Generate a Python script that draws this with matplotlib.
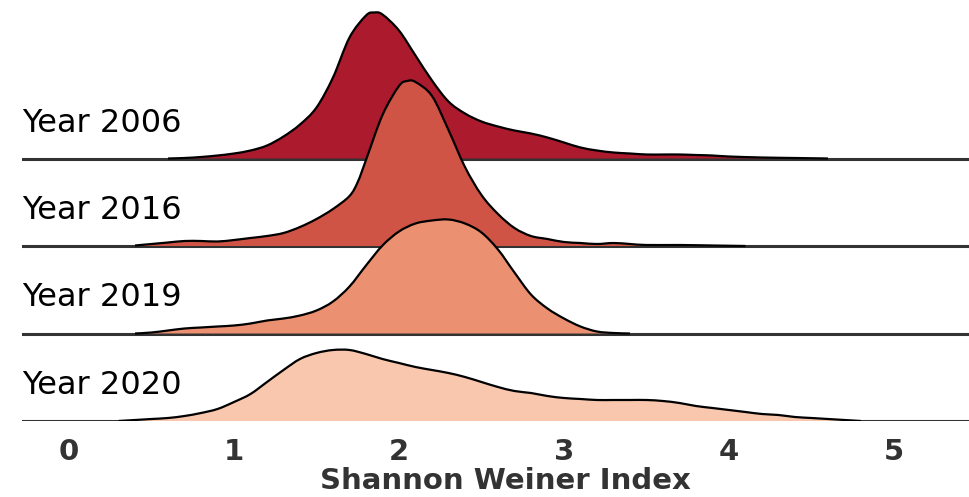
import matplotlib.pyplot as plt
import matplotlib.transforms as mtransforms
from matplotlib.path import Path
from matplotlib.patches import PathPatch


# ridge labels, top to bottom
years = ["Year 2006", "Year 2016", "Year 2019", "Year 2020"]

# kernel density estimates of the Shannon Weiner index for each year
x_2006 = [0.6, 0.7, 0.8, 0.9, 1.0, 1.1, 1.2, 1.3, 1.4, 1.5, 1.6, 1.7, 1.8, 1.85,
          1.9, 2.0, 2.1, 2.2, 2.3, 2.4, 2.5, 2.6, 2.7, 2.8, 2.9, 3.0, 3.1, 3.2,
          3.3, 3.4, 3.5, 3.6, 3.7, 3.8, 3.9, 4.0, 4.2, 4.4, 4.6]
d_2006 = [0.0, 0.005, 0.015, 0.03, 0.05, 0.08, 0.13, 0.22, 0.34, 0.51, 0.81,
          1.21, 1.43, 1.46, 1.44, 1.28, 1.03, 0.78, 0.57, 0.45, 0.37, 0.32,
          0.28, 0.25, 0.21, 0.16, 0.11, 0.08, 0.06, 0.05, 0.04, 0.04, 0.04,
          0.035, 0.03, 0.02, 0.01, 0.005, 0.0]

x_2016 = [0.4, 0.5, 0.6, 0.7, 0.8, 0.9, 1.0, 1.1, 1.2, 1.3, 1.4, 1.5, 1.6, 1.7,
          1.75, 1.8, 1.9, 2.0, 2.05, 2.1, 2.2, 2.3, 2.4, 2.5, 2.6, 2.7, 2.8,
          2.9, 3.0, 3.1, 3.2, 3.3, 3.4, 3.5, 3.7, 3.9, 4.1]
d_2016 = [0.005, 0.02, 0.035, 0.05, 0.05, 0.045, 0.06, 0.08, 0.10, 0.13, 0.19,
          0.27, 0.37, 0.50, 0.64, 0.86, 1.31, 1.60, 1.65, 1.64, 1.50, 1.16,
          0.79, 0.51, 0.32, 0.18, 0.10, 0.07, 0.04, 0.03, 0.02, 0.03, 0.02,
          0.01, 0.01, 0.005, 0.0]

x_2019 = [0.4, 0.5, 0.6, 0.7, 0.8, 0.9, 1.0, 1.1, 1.2, 1.3, 1.4, 1.5, 1.6, 1.7,
          1.8, 1.9, 2.0, 2.1, 2.2, 2.3, 2.4, 2.5, 2.6, 2.7, 2.8, 2.9, 3.0, 3.1,
          3.2, 3.3, 3.4]
d_2019 = [0.0, 0.01, 0.03, 0.05, 0.06, 0.07, 0.08, 0.10, 0.13, 0.15, 0.18,
          0.23, 0.32, 0.47, 0.68, 0.88, 1.02, 1.10, 1.13, 1.14, 1.10, 1.01,
          0.84, 0.61, 0.39, 0.25, 0.15, 0.07, 0.02, 0.005, 0.0]

x_2020 = [0.3, 0.4, 0.5, 0.6, 0.7, 0.8, 0.9, 1.0, 1.1, 1.2, 1.3, 1.4, 1.5, 1.6,
          1.7, 1.8, 1.9, 2.0, 2.1, 2.2, 2.3, 2.4, 2.5, 2.6, 2.7, 2.8, 2.9, 3.0,
          3.1, 3.2, 3.3, 3.4, 3.5, 3.6, 3.7, 3.8, 3.9, 4.0, 4.1, 4.2, 4.3, 4.4,
          4.5, 4.6, 4.7, 4.8]
d_2020 = [0.0, 0.01, 0.02, 0.03, 0.05, 0.08, 0.12, 0.19, 0.27, 0.39, 0.51,
          0.62, 0.68, 0.71, 0.71, 0.67, 0.62, 0.58, 0.54, 0.51, 0.48, 0.44,
          0.39, 0.34, 0.30, 0.28, 0.25, 0.23, 0.22, 0.21, 0.21, 0.21, 0.21,
          0.20, 0.18, 0.15, 0.13, 0.11, 0.09, 0.07, 0.06, 0.04, 0.03, 0.02,
          0.01, 0.0]

xs = [x_2006, x_2016, x_2019, x_2020]
ds = [d_2006, d_2016, d_2019, d_2020]
colors = ["#AB1A2D", "#CF5446", "#EB9070", "#F9C7AD"]

xticks = [0, 1, 2, 3, 4, 5]
spacing = 0.875


def smooth_path(x, y):
    """Catmull-Rom curve through the points, as cubic bezier segments."""
    pts = list(zip(x, y))
    verts = [pts[0]]
    codes = [Path.MOVETO]
    for i in range(len(pts) - 1):
        p0 = pts[max(i - 1, 0)]
        p1 = pts[i]
        p2 = pts[i + 1]
        p3 = pts[min(i + 2, len(pts) - 1)]
        c1 = (p1[0] + (p2[0] - p0[0]) / 6, p1[1] + (p2[1] - p0[1]) / 6)
        c2 = (p2[0] - (p3[0] - p1[0]) / 6, p2[1] - (p3[1] - p1[1]) / 6)
        verts += [c1, c2, p2]
        codes += [Path.CURVE4] * 3
    return verts, codes


fig = plt.figure(figsize=(9.69, 4.97), dpi=100)
ax = fig.add_axes([22 / 969, 76 / 497, 947 / 969, 421 / 497])

n = len(years)
label_tf = mtransforms.blended_transform_factory(ax.transAxes, ax.transData)
for i, (label, x, d, c) in enumerate(zip(years, xs, ds, colors)):
    off = (n - 1 - i) * spacing
    z = 10 + 3 * i
    verts, codes = smooth_path(x, [off + v for v in d])

    ax.axhline(off, color="#333333", lw=2.2, zorder=z)
    area = Path(verts + [(x[-1], off), (x[0], off), (x[0], off)],
                codes + [Path.LINETO, Path.LINETO, Path.CLOSEPOLY])
    ax.add_patch(PathPatch(area, facecolor=c, lw=0, zorder=z + 1))
    ax.add_patch(PathPatch(Path(verts, codes), fill=False, edgecolor="black",
                           lw=1.6, zorder=z + 2))
    ax.text(0, off + 0.27, label, transform=label_tf, fontsize=23,
            color="black", va="baseline", ha="left")

ax.set_xlim(-0.285, 5.455)
ax.set_ylim(0, 4.21)
ax.set_yticks([])
ax.set_xticks(xticks)
ax.set_xticklabels([str(t) for t in xticks], fontsize=21, fontweight="bold",
                   color="#333333")
ax.tick_params(axis="x", length=0, pad=12)
ax.set_xlabel("Shannon Weiner Index", fontsize=21, fontweight="bold",
              color="#333333", va="baseline")
ax.xaxis.set_label_coords(0.51, -0.162)
for s in ax.spines.values():
    s.set_visible(False)
ax.patch.set_visible(False)

fig.savefig("out.png", dpi=100)
